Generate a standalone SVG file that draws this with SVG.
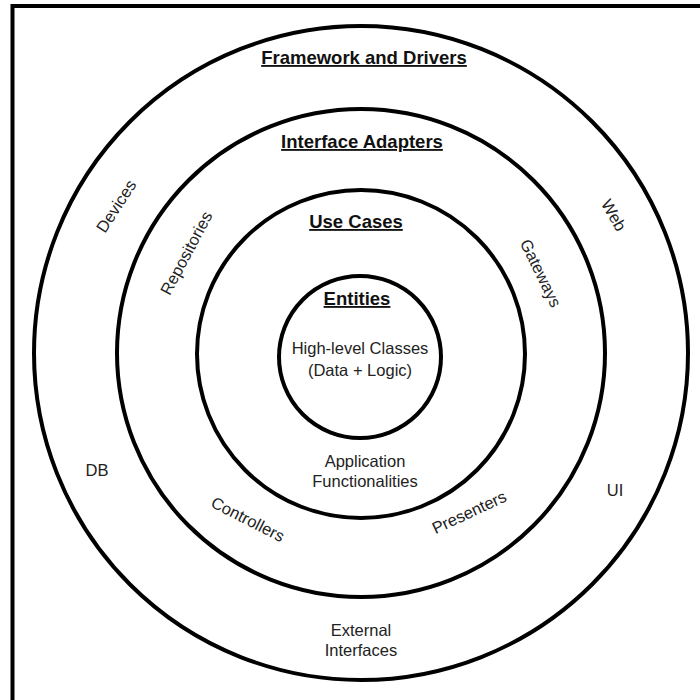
<svg xmlns="http://www.w3.org/2000/svg" width="700" height="700" viewBox="0 0 700 700">
<style>
.ring{fill:none;stroke:#000;stroke-width:4}
.t{font-family:"Liberation Sans",Arial,sans-serif;font-size:16.5px;fill:#222;text-anchor:middle}
.h{font-family:"Liberation Sans",Arial,sans-serif;font-size:18.5px;font-weight:bold;fill:#111;text-anchor:middle;text-decoration:underline}
</style>
<rect width="700" height="700" fill="#fff"/>
<path d="M12.5 720 V6 H720" fill="none" stroke="#000" stroke-width="4"/>
<g id="framework">
<circle class="ring" cx="361" cy="353" r="327"/>
<text class="h" x="364" y="64">Framework and Drivers</text>
<text class="t" transform="translate(116,206) rotate(-57)" y="6">Devices</text>
<text class="t" transform="translate(614,215) rotate(60)" y="6">Web</text>
<text class="t" x="97" y="476">DB</text>
<text class="t" x="615" y="496">UI</text>
<text class="t" x="361" y="636">External</text>
<text class="t" x="361" y="656">Interfaces</text>
</g>
<g id="adapters">
<circle class="ring" cx="361" cy="353" r="244"/>
<text class="h" x="362" y="148">Interface Adapters</text>
<text class="t" transform="translate(186,253) rotate(-62)" y="6">Repositories</text>
<text class="t" transform="translate(541,273) rotate(64)" y="6">Gateways</text>
<text class="t" transform="translate(248,519) rotate(27)" y="6">Controllers</text>
<text class="t" transform="translate(469,512) rotate(-25)" y="6">Presenters</text>
</g>
<g id="usecases">
<circle class="ring" cx="361" cy="354" r="164"/>
<text class="h" x="356" y="228">Use Cases</text>
<text class="t" x="365" y="467">Application</text>
<text class="t" x="365" y="487">Functionalities</text>
</g>
<g id="entities">
<circle class="ring" cx="360" cy="357" r="81"/>
<text class="h" x="357" y="305">Entities</text>
<text class="t" x="360" y="354">High-level Classes</text>
<text class="t" x="360" y="376">(Data + Logic)</text>
</g>
</svg>
